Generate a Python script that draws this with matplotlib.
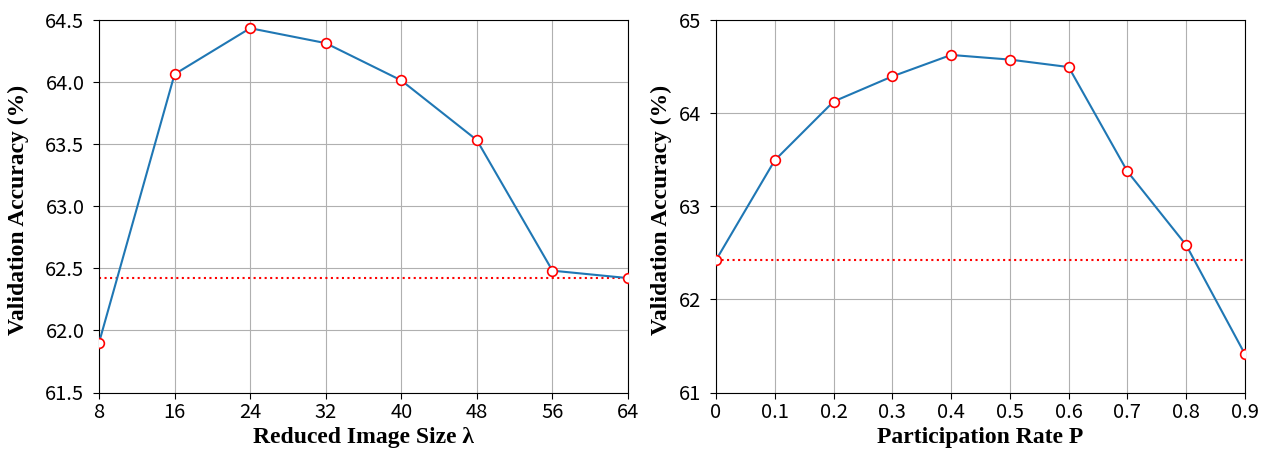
import matplotlib
matplotlib.use("Agg")
import matplotlib.pyplot as plt

# Data
size_x = [8, 16, 24, 32, 40, 48, 56, 64]
size_acc = [61.90, 64.06, 64.43, 64.31, 64.01, 63.53, 62.48, 62.42]
rate_x = [0, 0.1, 0.2, 0.3, 0.4, 0.5, 0.6, 0.7, 0.8, 0.9]
rate_acc = [62.42, 63.49, 64.12, 64.39, 64.62, 64.57, 64.49, 63.37, 62.58, 61.41]
baseline = 62.42

left_yticks = [61.5, 62.0, 62.5, 63.0, 63.5, 64.0, 64.5]
right_yticks = [61, 62, 63, 64, 65]
right_xlabels = ["0", "0.1", "0.2", "0.3", "0.4", "0.5", "0.6", "0.7", "0.8", "0.9"]

tick_font = ["Noto Sans CJK SC", "DejaVu Sans"]
label_font = dict(family="Liberation Serif", weight="bold", size=17)

W, H = 1266, 453
fig = plt.figure(figsize=(W / 100, H / 100), dpi=100)
top, bottom = 19.5, 392.5
ax1 = fig.add_axes([99 / W, 1 - bottom / H, (628 - 99) / W, (bottom - top) / H])
ax2 = fig.add_axes([716 / W, 1 - bottom / H, (1245 - 716) / W, (bottom - top) / H])

def style(ax):
    ax.grid(True, color="#b0b0b0", linewidth=0.8)
    ax.set_axisbelow(True)
    for lab in ax.get_xticklabels() + ax.get_yticklabels():
        lab.set_family(tick_font)
        lab.set_fontsize(14.5)
    ax.tick_params(length=4.5, width=0.8)
    ax.tick_params(axis="y", pad=6)
    ax.tick_params(axis="x", pad=2)

ax1.plot(size_x, size_acc, color="#1f77b4", linewidth=1.5, marker="o",
         markersize=7, markerfacecolor="white", markeredgecolor="red", markeredgewidth=1.2, zorder=3)
ax1.axhline(baseline, color="red", linestyle=":", linewidth=1.5, zorder=2)
ax1.set_xlim(8, 64)
ax1.set_ylim(61.5, 64.5)
ax1.set_xticks(size_x)
ax1.set_xticklabels([str(v) for v in size_x])
ax1.set_yticks(left_yticks)
ax1.set_yticklabels([f"{v:.1f}" for v in left_yticks])
ax1.set_xlabel("Reduced Image Size λ", fontdict=label_font, labelpad=3)
ax1.set_ylabel("Validation Accuracy (%)", fontdict=label_font)
ax1.yaxis.set_label_coords(-0.132, 0.49)
style(ax1)

ax2.plot(rate_x, rate_acc, color="#1f77b4", linewidth=1.5, marker="o",
         markersize=7, markerfacecolor="white", markeredgecolor="red", markeredgewidth=1.2, zorder=3)
ax2.axhline(baseline, color="red", linestyle=":", linewidth=1.5, zorder=2)
ax2.set_xlim(0, 0.9)
ax2.set_ylim(61, 65)
ax2.set_xticks(rate_x)
ax2.set_xticklabels(right_xlabels)
ax2.set_yticks(right_yticks)
ax2.set_yticklabels([str(v) for v in right_yticks])
ax2.set_xlabel("Participation Rate P", fontdict=label_font, labelpad=3)
ax2.set_ylabel("Validation Accuracy (%)", fontdict=label_font)
ax2.yaxis.set_label_coords(-0.083, 0.49)
style(ax2)

fig.savefig("out.png", dpi=100)
